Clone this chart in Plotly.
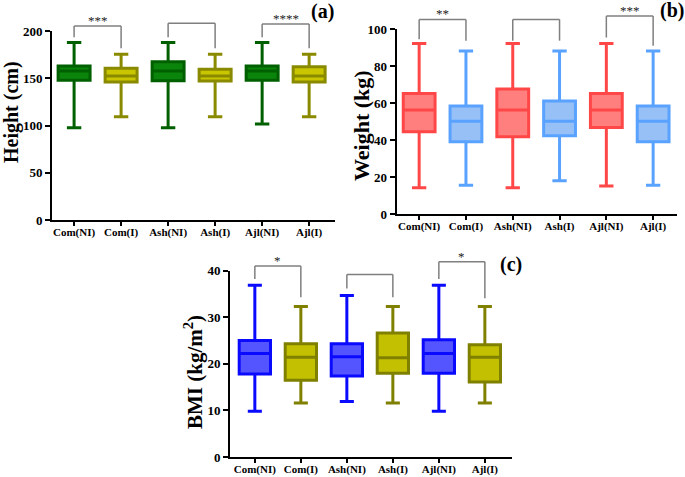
import plotly.graph_objects as go

W, H = 685, 477

categories = ["Com(NI)", "Com(I)", "Ash(NI)", "Ash(I)", "Ajl(NI)", "Ajl(I)"]
ni_cats = ["Com(NI)", "Ash(NI)", "Ajl(NI)"]
i_cats = ["Com(I)", "Ash(I)", "Ajl(I)"]

# Panel (a) Height (cm)
height_ni_low = [97.7, 97.7, 101.6]
height_ni_q1 = [148, 147.4, 148]
height_ni_med = [157.7, 157.7, 157.7]
height_ni_q3 = [163, 167.5, 163]
height_ni_high = [187.7, 187.7, 187.7]
height_i_low = [109.3, 109.3, 109.3]
height_i_q1 = [146, 147, 146]
height_i_med = [152.4, 152.4, 152.4]
height_i_q3 = [160.5, 159.4, 162.3]
height_i_high = [175.3, 175.3, 175.3]

# Panel (b) Weight (kg)
weight_ni_low = [14.2, 14.2, 15.1]
weight_ni_q1 = [44.5, 41.8, 46.8]
weight_ni_med = [56.2, 56.2, 56.2]
weight_ni_q3 = [65.2, 67.6, 65.2]
weight_ni_high = [92.1, 92.1, 92.1]
weight_i_low = [15.5, 18.0, 15.5]
weight_i_q1 = [39.1, 42.3, 39.1]
weight_i_med = [50.1, 50.1, 50.1]
weight_i_q3 = [58.4, 61.1, 58.4]
weight_i_high = [88.1, 88.1, 88.1]

# Panel (c) BMI (kg/m2)
bmi_ni_low = [9.8, 11.9, 9.8]
bmi_ni_q1 = [17.8, 17.4, 18.0]
bmi_ni_med = [22.2, 21.5, 22.2]
bmi_ni_q3 = [25.0, 24.3, 25.2]
bmi_ni_high = [36.9, 34.7, 36.9]
bmi_i_low = [11.6, 11.6, 11.6]
bmi_i_q1 = [16.5, 18.0, 16.1]
bmi_i_med = [21.4, 21.3, 21.4]
bmi_i_q3 = [24.3, 26.6, 24.1]
bmi_i_high = [32.3, 32.3, 32.3]

# significance brackets: (top, left-leg end, right-leg end) and label
brackets_a = [(205.3, 193.3, 181.7, "***"), (208.1, 193.3, 181.7, ""), (207.4, 193.3, 181.7, "****")]
brackets_b = [(105.2, 94.4, 93.7, "**"), (105.2, 93.7, 93.7, ""), (107.0, 95.4, 91.0, "***")]
brackets_c = [(41.0, 38.2, 34.3, "*"), (39.2, 36.2, 34.3, ""), (41.9, 38.2, 34.1, "*")]

SERIF = "Liberation Serif"

panels = [
    dict(ax="", xd=[52 / W, 335 / W], yd=[1 - 220 / H, 1 - 31 / H], xr=[-0.47, 5.55], yr=[0, 200], dt=50,
         ni=(height_ni_low, height_ni_q1, height_ni_med, height_ni_q3, height_ni_high),
         i=(height_i_low, height_i_q1, height_i_med, height_i_q3, height_i_high),
         ni_fill="#0b840b", ni_line="#006000", i_fill="#c9c600", i_line="#8a8a00",
         br=brackets_a, title="Height (cm)", tpos=(12, 112), tsize=20, lab="(a)", lpos=(322, 12)),
    dict(ax="2", xd=[396.7 / W, 677 / W], yd=[1 - 214 / H, 1 - 29 / H], xr=[-0.48, 5.51], yr=[0, 100], dt=20,
         ni=(weight_ni_low, weight_ni_q1, weight_ni_med, weight_ni_q3, weight_ni_high),
         i=(weight_i_low, weight_i_q1, weight_i_med, weight_i_q3, weight_i_high),
         ni_fill="#ff7f7f", ni_line="#ff4747", i_fill="#96c0f6", i_line="#5aa2ff",
         br=brackets_b, title="Weight (kg)", tpos=(361, 125), tsize=22, lab="(b)", lpos=(672, 11)),
    dict(ax="3", xd=[230 / W, 512 / W], yd=[1 - 457 / H, 1 - 270.7 / H], xr=[-0.54, 5.59], yr=[0, 40], dt=10,
         ni=(bmi_ni_low, bmi_ni_q1, bmi_ni_med, bmi_ni_q3, bmi_ni_high),
         i=(bmi_i_low, bmi_i_q1, bmi_i_med, bmi_i_q3, bmi_i_high),
         ni_fill="#5555ff", ni_line="#0a0aff", i_fill="#c2c000", i_line="#808000",
         br=brackets_c, title="BMI (kg/m<sup>2</sup>)", tpos=(193, 372), tsize=21, lab="(c)", lpos=(511, 264)),
]

fig = go.Figure()
shapes = []
annotations = []

for p in panels:
    xa = "x" + p["ax"]
    ya = "y" + p["ax"]
    for cats, vals, fill, line in ((ni_cats, p["ni"], p["ni_fill"], p["ni_line"]),
                                   (i_cats, p["i"], p["i_fill"], p["i_line"])):
        lo, q1, med, q3, hi = vals
        fig.add_trace(go.Box(
            x=cats, lowerfence=lo, q1=q1, median=med, q3=q3, upperfence=hi,
            fillcolor=fill, line=dict(color=line, width=3), width=0.68, whiskerwidth=0.45,
            boxpoints=False, showlegend=False, hoverinfo="skip",
            xaxis=xa, yaxis=ya))

    axkey = "xaxis" + p["ax"]
    aykey = "yaxis" + p["ax"]
    fig.update_layout(**{
        axkey: dict(domain=p["xd"], anchor=ya, type="category", categoryorder="array",
                    categoryarray=categories, range=p["xr"], showgrid=False, zeroline=False,
                    automargin=False, fixedrange=True,
                    showline=True, linecolor="black", linewidth=2, ticks="outside", ticklen=4,
                    tickwidth=2, tickcolor="black", ticklabelstandoff=-3,
                    tickfont=dict(family=SERIF, size=11, color="black", weight="bold")),
        aykey: dict(domain=p["yd"], anchor=xa, range=p["yr"], dtick=p["dt"], showgrid=False,
                    zeroline=False, showline=True, linecolor="black", linewidth=2,
                    automargin=False, fixedrange=True,
                    ticks="outside", ticklen=5, tickwidth=2, tickcolor="black",
                    tickfont=dict(family=SERIF, size=13, color="black", weight="bold")),
    })

    xr, yr = p["xr"], p["yr"]

    def xf(i):
        return (i - xr[0]) / (xr[1] - xr[0])

    def yf(v):
        return (v - yr[0]) / (yr[1] - yr[0])

    for k, (top, lleg, rleg, lab) in enumerate(p["br"]):
        x0, x1 = xf(2 * k), xf(2 * k + 1)
        gl = dict(color="#7f7f7f", width=1.5)
        common = dict(type="line", xref=xa + " domain", yref=ya + " domain", line=gl)
        shapes.append(dict(x0=x0, x1=x1, y0=yf(top), y1=yf(top), **common))
        shapes.append(dict(x0=x0, x1=x0, y0=yf(top), y1=yf(lleg), **common))
        shapes.append(dict(x0=x1, x1=x1, y0=yf(top), y1=yf(rleg), **common))
        if lab:
            annotations.append(dict(x=(x0 + x1) / 2, y=yf(top), xref=xa + " domain", yref=ya + " domain",
                                    text=lab, showarrow=False, xanchor="center", yanchor="bottom",
                                    yshift=-4, font=dict(family=SERIF, size=13, color="#222222")))

    annotations.append(dict(x=p["tpos"][0] / W, y=1 - p["tpos"][1] / H, xref="paper", yref="paper",
                            text=p["title"], textangle=-90, showarrow=False,
                            xanchor="center", yanchor="middle",
                            font=dict(family=SERIF, size=p["tsize"], color="black", weight="bold")))
    annotations.append(dict(x=p["lpos"][0] / W, y=1 - p["lpos"][1] / H, xref="paper", yref="paper",
                            text=p["lab"], showarrow=False, xanchor="center", yanchor="middle",
                            font=dict(family=SERIF, size=20, color="black", weight="bold")))

fig.update_layout(
    width=W, height=H, margin=dict(l=0, r=0, t=0, b=0, autoexpand=False),
    paper_bgcolor="white", plot_bgcolor="white", boxmode="overlay",
    shapes=shapes, annotations=annotations,
)

fig.write_html("out.html", config={"displayModeBar": False},
               post_script="document.body.style.margin='0px';document.body.style.padding='0px';"
                           "document.documentElement.style.overflow='hidden';")
